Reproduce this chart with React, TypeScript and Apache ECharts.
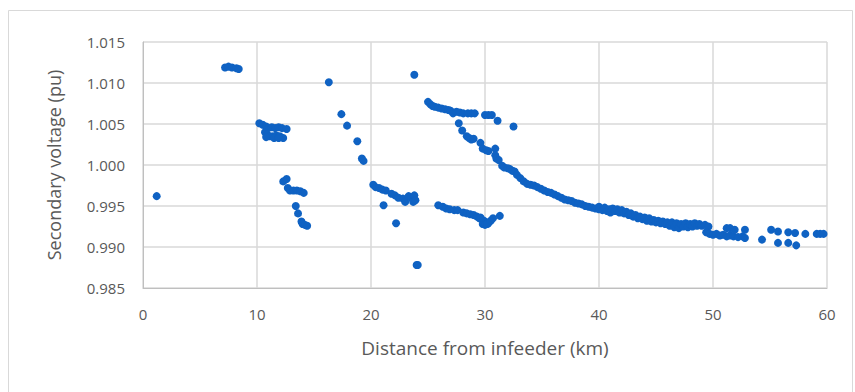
import React, { useEffect, useRef } from "react";
import * as echarts from "echarts";

const xTicks = [0, 10, 20, 30, 40, 50, 60];
const yTicks = ["0.985", "0.990", "0.995", "1.000", "1.005", "1.010", "1.015"];
const xTitle = "Distance from infeeder (km)";
const yTitle = "Secondary voltage (pu)";

const groupStart: number[][] = [
  [1.2, 0.9962],
  [7.2, 1.0119], [7.5, 1.012], [7.8, 1.0119], [8.2, 1.0118], [8.4, 1.0117],
];
const group10to13: number[][] = [
  [10.2, 1.0051], [10.5, 1.0049], [10.8, 1.0047], [11.0, 1.0045], [11.3, 1.0046], [11.6, 1.0045],
  [11.9, 1.0046], [12.2, 1.0045], [12.6, 1.0044],
  [10.7, 1.004], [10.9, 1.0037], [11.1, 1.0035], [11.4, 1.0035], [11.7, 1.0036], [12.0, 1.0035],
  [12.3, 1.0033], [10.8, 1.0034], [11.5, 1.0033], [11.9, 1.0033],
];
const group12to14: number[][] = [
  [12.3, 0.998], [12.6, 0.9983], [12.7, 0.9972], [12.9, 0.9969], [13.2, 0.9969], [13.5, 0.9969],
  [13.8, 0.9968], [14.1, 0.9966], [13.4, 0.995], [13.6, 0.9941], [13.9, 0.9931], [14.0, 0.9928],
  [14.2, 0.9927], [14.4, 0.9926],
];
const group16to19: number[][] = [
  [16.3, 1.0101], [17.4, 1.0062], [17.9, 1.0048], [18.8, 1.0029], [19.2, 1.0008], [19.35, 1.0005],
];
const group20to24: number[][] = [
  [20.2, 0.9976], [20.4, 0.9973], [20.7, 0.9972], [21.0, 0.997], [21.3, 0.9969], [21.1, 0.9951],
  [21.8, 0.9965], [22.1, 0.9963], [22.4, 0.996], [22.2, 0.9929], [22.8, 0.9959], [23.0, 0.9955],
  [23.3, 0.9962], [23.5, 0.996], [23.7, 0.9955], [23.8, 0.9963], [23.9, 0.9957],
  [23.8, 1.011], [24.0, 0.9878], [24.1, 0.9878],
];
const upperBranch: number[][] = [
  [25.0, 1.0077], [25.2, 1.0074], [25.4, 1.0072], [25.6, 1.0071], [25.9, 1.007], [26.2, 1.0069],
  [26.5, 1.0068], [26.8, 1.0067], [27.0, 1.0066], [27.2, 1.0063], [27.5, 1.0065], [27.8, 1.0064],
  [28.1, 1.0063], [28.5, 1.0063], [28.8, 1.0063], [29.1, 1.0063], [30.0, 1.0061], [30.3, 1.0061],
  [30.6, 1.0061], [31.1, 1.0054], [32.5, 1.0047],
];
const fallingBranch: number[][] = [
  [27.7, 1.0051], [28.0, 1.0042], [28.4, 1.0035], [28.6, 1.0033], [28.8, 1.0031], [29.0, 1.0032],
  [29.6, 1.0027], [29.8, 1.002], [30.1, 1.0018], [30.3, 1.0017], [30.9, 1.002], [30.9, 1.0012],
  [31.0, 1.0008], [31.2, 1.0006],
];
const lowerBranch: number[][] = [
  [25.9, 0.9951], [26.3, 0.9949], [26.6, 0.9947], [26.9, 0.9946], [27.3, 0.9945], [27.6, 0.9945],
  [28.1, 0.9942], [28.4, 0.9941], [28.7, 0.994], [29.0, 0.9939], [29.3, 0.9937], [29.5, 0.9935],
  [29.7, 0.9934], [29.9, 0.9932], [30.1, 0.993], [30.3, 0.9929], [29.8, 0.9928], [30.0, 0.9927],
  [30.2, 0.9928], [30.5, 0.9932], [30.7, 0.9935], [29.6, 0.9936], [31.3, 0.9938],
];
const mainCurve: number[][] = [
  [31.5, 0.9999], [31.7, 0.9997], [32.0, 0.9996], [32.2, 0.9995], [32.4, 0.9993], [32.6, 0.9992],
  [32.8, 0.9988], [33.1, 0.9984], [33.4, 0.998], [33.7, 0.9977], [34.0, 0.9976], [34.3, 0.9975],
  [34.6, 0.9973], [34.9, 0.9971], [35.2, 0.9969], [35.5, 0.9967], [35.8, 0.9966], [36.1, 0.9964],
  [36.4, 0.9962], [36.7, 0.996], [37.0, 0.9958], [37.3, 0.9957], [37.6, 0.9956], [37.9, 0.9954],
  [38.2, 0.9953], [38.5, 0.9952], [38.8, 0.995], [39.1, 0.9949], [39.4, 0.9948], [39.7, 0.9947],
  [40.0, 0.9946], [40.0, 0.9949], [40.3, 0.9945], [40.5, 0.9948], [40.7, 0.9944], [40.9, 0.9946],
  [41.0, 0.9942],
];
const band41to50: number[][] = [
  [41.2, 0.9947], [41.4, 0.9944], [41.6, 0.9946], [41.8, 0.9942], [42.0, 0.9945], [42.2, 0.9941],
  [42.4, 0.9943], [42.6, 0.9939], [42.8, 0.9941], [43.0, 0.9937], [43.2, 0.9939], [43.4, 0.9935],
  [43.6, 0.9937], [43.8, 0.9934], [44.0, 0.9936], [44.2, 0.9932], [44.4, 0.9935], [44.6, 0.9931],
  [44.8, 0.9933], [45.0, 0.993], [45.2, 0.9932], [45.4, 0.9929], [45.6, 0.9931], [45.8, 0.9928],
  [46.0, 0.993], [46.2, 0.9926], [46.4, 0.993], [46.6, 0.9924], [46.8, 0.9929], [47.0, 0.9923],
  [47.2, 0.9928], [47.4, 0.9925], [47.6, 0.9929], [47.8, 0.9924], [48.0, 0.9928], [48.2, 0.9925],
  [48.4, 0.9929], [48.6, 0.9926], [48.8, 0.9928], [49.0, 0.9926], [49.3, 0.9927], [49.6, 0.9925],
];
const tail50to60: number[][] = [
  [49.4, 0.9918], [49.7, 0.9916], [50.0, 0.9915], [50.3, 0.9916], [50.6, 0.9914], [50.9, 0.9915],
  [51.2, 0.9913], [51.5, 0.9914], [51.8, 0.9913], [52.2, 0.9912], [52.6, 0.9913],
  [51.2, 0.9923], [51.5, 0.9923], [51.9, 0.9921], [52.8, 0.9921], [52.8, 0.9911], [54.3, 0.9909],
  [55.1, 0.9921], [55.7, 0.9919], [55.7, 0.9905], [56.6, 0.9918], [56.6, 0.9905], [57.2, 0.9917],
  [57.3, 0.9902], [58.1, 0.9916], [59.1, 0.9916], [59.4, 0.9916], [59.7, 0.9916],
];

const allPoints = [
  ...groupStart, ...group10to13, ...group12to14, ...group16to19, ...group20to24,
  ...upperBranch, ...fallingBranch, ...lowerBranch, ...mainCurve, ...band41to50, ...tail50to60,
];

export default function App() {
  const ref = useRef<HTMLDivElement>(null);
  useEffect(() => {
    if (!ref.current) return;
    const chart = echarts.init(ref.current, null, { renderer: "svg" });
    const font = "Open Sans";
    chart.setOption({
      animation: false,
      backgroundColor: "#ffffff",
      textStyle: { fontFamily: font },
      graphic: [
        {
          type: "rect",
          shape: { x: 8.5, y: 10.5, width: 844, height: 400 },
          style: { fill: "none", stroke: "#d9d9d9", lineWidth: 1 },
          silent: true,
        },
      ],
      grid: { left: 143, right: 28, top: 42, bottom: 104 },
      xAxis: {
        type: "value",
        min: xTicks[0],
        max: xTicks[xTicks.length - 1],
        interval: 10,
        name: xTitle,
        nameLocation: "middle",
        nameGap: 50,
        nameTextStyle: { color: "#595959", fontSize: 19, fontFamily: font },
        axisLine: { show: true, lineStyle: { color: "#bfbfbf", width: 1 } },
        axisTick: { show: false },
        axisLabel: { color: "#595959", fontSize: 15, margin: 18, fontFamily: font },
        splitLine: { show: true, lineStyle: { color: "#d9d9d9", width: 1.5 } },
      },
      yAxis: {
        type: "value",
        min: Number(yTicks[0]),
        max: Number(yTicks[yTicks.length - 1]),
        interval: 0.005,
        name: yTitle,
        nameLocation: "middle",
        nameGap: 80,
        nameRotate: 90,
        nameTextStyle: { color: "#595959", fontSize: 18, fontFamily: font },
        axisLine: { show: true, lineStyle: { color: "#bfbfbf", width: 1 } },
        axisTick: { show: false },
        axisLabel: {
          color: "#595959",
          fontSize: 15,
          margin: 18,
          fontFamily: font,
          formatter: (v: number) => v.toFixed(3),
        },
        splitLine: { show: true, lineStyle: { color: "#d9d9d9", width: 1.5 } },
      },
      series: [
        {
          type: "scatter",
          data: allPoints,
          symbol: "circle",
          symbolSize: 8,
          itemStyle: { color: "#0f62c3", opacity: 1 },
        },
      ],
    });
    return () => chart.dispose();
  }, []);
  return (
    <div
      ref={ref}
      style={{ position: "fixed", left: 0, top: 0, width: 855, height: 392 }}
    />
  );
}
